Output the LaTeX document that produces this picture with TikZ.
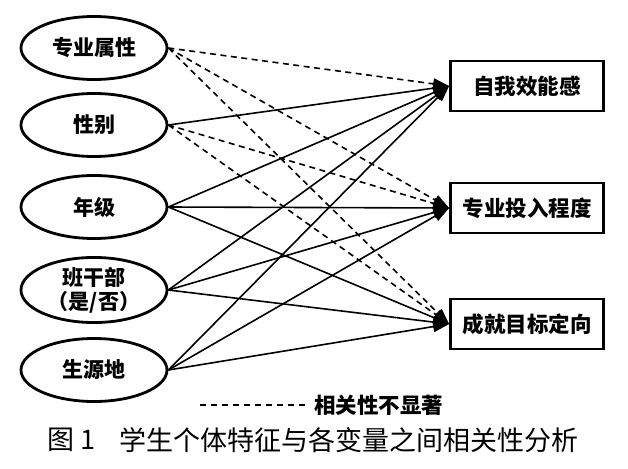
\documentclass[tikz,border=0pt]{standalone}
\usepackage{fontspec}
\setmainfont{Noto Sans CJK SC}
\usetikzlibrary{shapes.geometric,arrows.meta}
\begin{document}
\begin{tikzpicture}[x=1pt,y=-1pt,
 ell/.style={ellipse,draw,line width=2.8pt,minimum width=146pt,minimum height=63pt,inner sep=0pt,font=\fontsize{21}{24}\selectfont\bfseries,align=center},
 box/.style={rectangle,draw,line width=2.8pt,minimum width=153pt,minimum height=50pt,inner sep=0pt,font=\fontsize{21.5}{24}\selectfont\bfseries},
 sol/.style={line width=1.6pt,-{Triangle[length=16pt,width=11pt]}},
 dsh/.style={sol,dash pattern=on 6pt off 4.5pt},
 captext/.style={font=\fontsize{27}{29}\selectfont,inner sep=0pt,anchor=west}]
\useasboundingbox (0,0) rectangle (628,468);
\fill[white] (0,0) rectangle (628,468);
\node[ell] (zy) at (94,48) {专业属性};
\node[ell] (xb) at (94,125) {性别};
\node[ell] (nj) at (94,207) {年级};
\node[ell] (bg) at (94,290) {班干部\\（是/否）};
\node[ell] (sy) at (94,370) {生源地};
\node[box] (zw) at (527,86) {自我效能感};
\node[box] (tr) at (527,208) {专业投入程度};
\node[box] (cj) at (527,324) {成就目标定向};
\draw[dsh] (zy.east) -- (zw.west);
\draw[dsh] (zy.east) -- (tr.west);
\draw[dsh] (zy.east) -- (cj.west);
\draw[sol] (xb.east) -- (zw.west);
\draw[dsh] (xb.east) -- (tr.west);
\draw[dsh] (xb.east) -- (cj.west);
\foreach \s in {nj,bg,sy}{
  \draw[sol] (\s.east) -- (zw.west);
  \draw[sol] (\s.east) -- (tr.west);
  \draw[sol] (\s.east) -- (cj.west);
}
\coordinate (la) at (200,405);
\coordinate (lb) at (305,405);
\draw[line width=1.5pt,dash pattern=on 6pt off 5pt] (la) -- (lb);
\node[font=\fontsize{21.5}{24}\selectfont\bfseries,anchor=west,inner sep=0pt] (lt) at (314,405) {相关性不显著};
\node[captext] (c1) at (47,440) {图 1};
\node[captext] (c2) at (119,440) {学生个体特征与各变量之间相关性分析};
\end{tikzpicture}
\end{document}
